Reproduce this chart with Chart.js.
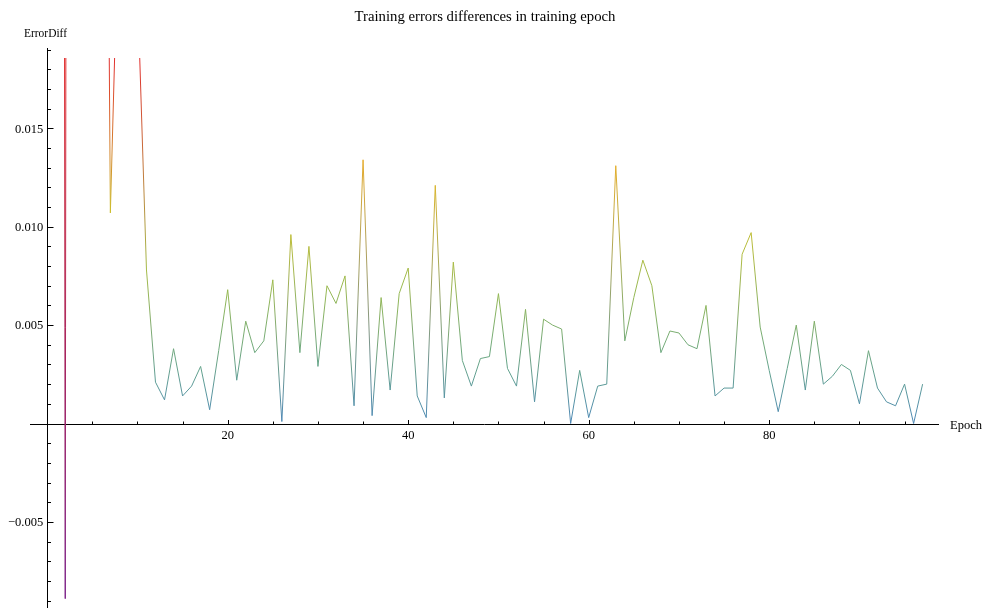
<!DOCTYPE html>
<html>
<head>
<meta charset="utf-8">
<script src="https://cdn.jsdelivr.net/npm/chart.js@4.4.1/dist/chart.umd.min.js"></script>
<style>
  html, body { margin: 0; padding: 0; background: #fff; }
  #wrap { width: 994px; height: 608px; position: relative; }
</style>
</head>
<body>
<div id="wrap"><canvas id="chart"></canvas></div>
<script>
const epochs = [1, 2, 3, 4, 5, 6, 7, 8, 9, 10, 11, 12, 13, 14, 15, 16, 17, 18, 19, 20,
  21, 22, 23, 24, 25, 26, 27, 28, 29, 30, 31, 32, 33, 34, 35, 36, 37, 38, 39, 40,
  41, 42, 43, 44, 45, 46, 47, 48, 49, 50, 51, 52, 53, 54, 55, 56, 57, 58, 59, 60,
  61, 62, 63, 64, 65, 66, 67, 68, 69, 70, 71, 72, 73, 74, 75, 76, 77, 78, 79, 80,
  81, 82, 83, 84, 85, 86, 87, 88, 89, 90, 91, 92, 93, 94, 95, 96, 97];

// first epochs run far above the plot range, only the steep pieces show
const errorDiff = [0.35, -0.0089, 0.40, 0.12, 0.09, 0.075, 0.0107, 0.0275, 0.030, 0.0222,
  0.0078, 0.0021, 0.0012, 0.0038, 0.0014, 0.0019, 0.0029, 0.0007, 0.0037, 0.0068,
  0.0022, 0.0052, 0.0036, 0.0042, 0.0073, 0.0001, 0.0096, 0.0036, 0.0090, 0.0029,
  0.0070, 0.0061, 0.0075, 0.0009, 0.0134, 0.0004, 0.0064, 0.0017, 0.0066, 0.0079,
  0.0014, 0.0003, 0.0121, 0.0013, 0.0082, 0.0032, 0.0019, 0.0033, 0.0034, 0.0066,
  0.0028, 0.0019, 0.0058, 0.0011, 0.0053, 0.0050, 0.0048, 0.0000, 0.0027, 0.0003,
  0.0019, 0.0020, 0.0131, 0.0042, 0.0064, 0.0083, 0.0070, 0.0036, 0.0047, 0.0046,
  0.0040, 0.0038, 0.0060, 0.0014, 0.0018, 0.0018, 0.0086, 0.0097, 0.0049, 0.0027,
  0.0006, 0.0028, 0.0050, 0.0017, 0.0052, 0.0020, 0.0024, 0.0030, 0.0027, 0.0010,
  0.0037, 0.0018, 0.0011, 0.0009, 0.0020, 0.0000, 0.0020];

const xTickLabels = [20, 40, 60, 80];
const yTickLabels = [-0.005, 0.005, 0.010, 0.015];
const yTickTexts = ['\u22120.005', '0.005', '0.010', '0.015'];

// rainbow colour scale over the visible y range
const rainbow = [
  [120, 28, 134], [64, 65, 206], [67, 125, 198], [100, 164, 138],
  [151, 185, 80], [205, 191, 45], [241, 162, 42], [225, 45, 45]
];
const colourLow = -0.0089;
const colourHigh = 0.0186;

function colourAt(v) {
  let t = (v - colourLow) / (colourHigh - colourLow);
  t = Math.max(0, Math.min(1, t)) * (rainbow.length - 1);
  const i = Math.min(rainbow.length - 2, Math.floor(t));
  const f = t - i;
  const a = rainbow[i], b = rainbow[i + 1];
  const c = a.map((n, k) => Math.round(n + (b[k] - n) * f));
  return 'rgb(' + c.join(',') + ')';
}

// colours interpolate between the clipped ends of each piece of line
function segmentColour(ctx) {
  const chart = ctx.chart;
  const area = chart.chartArea;
  const yScale = chart.scales.y;
  let ax = ctx.p0.x, ay = ctx.p0.y, bx = ctx.p1.x, by = ctx.p1.y;
  if ((ay < area.top && by < area.top) || (ay > area.bottom && by > area.bottom)) {
    return colourAt(0);
  }
  const cut = (x0, y0, x1, y1, yc) => x0 + (x1 - x0) * (yc - y0) / (y1 - y0);
  if (ay < area.top) { ax = cut(ax, ay, bx, by, area.top); ay = area.top; }
  else if (ay > area.bottom) { ax = cut(ax, ay, bx, by, area.bottom); ay = area.bottom; }
  if (by < area.top) { bx = cut(ax, ay, bx, by, area.top); by = area.top; }
  else if (by > area.bottom) { bx = cut(ax, ay, bx, by, area.bottom); by = area.bottom; }
  if (ax === bx && ay === by) return colourAt(yScale.getValueForPixel(ay));
  const g = chart.ctx.createLinearGradient(ax, ay, bx, by);
  g.addColorStop(0, colourAt(yScale.getValueForPixel(ay)));
  g.addColorStop(1, colourAt(yScale.getValueForPixel(by)));
  return g;
}

const serif = '"Liberation Serif", "Times New Roman", serif';

const axesPlugin = {
  id: 'mmaAxes',
  beforeDatasetsDraw(chart) {
    const c = chart.ctx;
    const xs = chart.scales.x, ys = chart.scales.y;
    const ax = Math.round(xs.getPixelForValue(0)) + 0.5;
    const ay = Math.round(ys.getPixelForValue(0)) + 0.5;
    c.save();
    c.strokeStyle = '#000';
    c.lineWidth = 1;
    c.beginPath();
    c.moveTo(Math.round(xs.getPixelForValue(-1.9)), ay);
    c.lineTo(Math.round(xs.getPixelForValue(98.8)), ay);
    c.moveTo(ax, Math.round(ys.getPixelForValue(0.0191)));
    c.lineTo(ax, chart.height);
    // y ticks every 0.001, longer on the labelled ones
    for (let k = -9; k <= 19; k++) {
      if (k === 0) continue;
      const py = Math.round(ys.getPixelForValue(k / 1000)) + 0.5;
      const len = k % 5 === 0 ? 6 : 3.5;
      c.moveTo(ax, py);
      c.lineTo(ax + len, py);
    }
    // x ticks every 5 epochs
    for (let e = 5; e <= 95; e += 5) {
      const px = Math.round(xs.getPixelForValue(e)) + 0.5;
      const len = e % 20 === 0 ? 4.5 : 3;
      c.moveTo(px, ay);
      c.lineTo(px, ay - len);
    }
    c.stroke();
    c.restore();
  },
  afterDraw(chart) {
    const c = chart.ctx;
    const xs = chart.scales.x, ys = chart.scales.y;
    const ax = xs.getPixelForValue(0);
    const ay = ys.getPixelForValue(0);
    c.save();
    c.fillStyle = '#000';
    c.textBaseline = 'alphabetic';
    c.font = '15px ' + serif;
    c.textAlign = 'center';
    c.fillText('Training errors differences in training epoch', 485, 21, 261);
    c.font = '12.5px ' + serif;
    c.textAlign = 'left';
    c.fillText('ErrorDiff', 24, 37, 43);
    c.fillText('Epoch', 950, ay + 5);
    c.textAlign = 'right';
    yTickLabels.forEach((v, i) => {
      c.fillText(yTickTexts[i], ax - 4, ys.getPixelForValue(v) + 4.3);
    });
    c.textAlign = 'center';
    xTickLabels.forEach(e => {
      c.fillText(String(e), xs.getPixelForValue(e), ay + 15.5);
    });
    c.restore();
  }
};

const chart = document.querySelector('#chart');

new Chart(chart, {
  type: 'line',
  data: {
    labels: epochs,
    datasets: [{
      label: 'ErrorDiff',
      data: errorDiff,
      borderColor: '#7fb06b',
      borderWidth: 1,
      pointRadius: 0,
      tension: 0,
      fill: false,
      segment: {
        borderColor: segmentColour
      }
    }]
  },
  options: {
    responsive: true,
    maintainAspectRatio: false,
    animation: false,
    layout: { padding: { top: 58, left: 0, right: 0, bottom: 0 } },
    plugins: {
      legend: { display: false },
      title: { display: false },
      tooltip: { enabled: false }
    },
    scales: {
      x: { type: 'linear', min: -5.2299, max: 104.909, display: false },
      y: { type: 'linear', min: -0.009375, max: 0.0185722, display: false }
    }
  },
  plugins: [axesPlugin]
});
</script>
</body>
</html>
